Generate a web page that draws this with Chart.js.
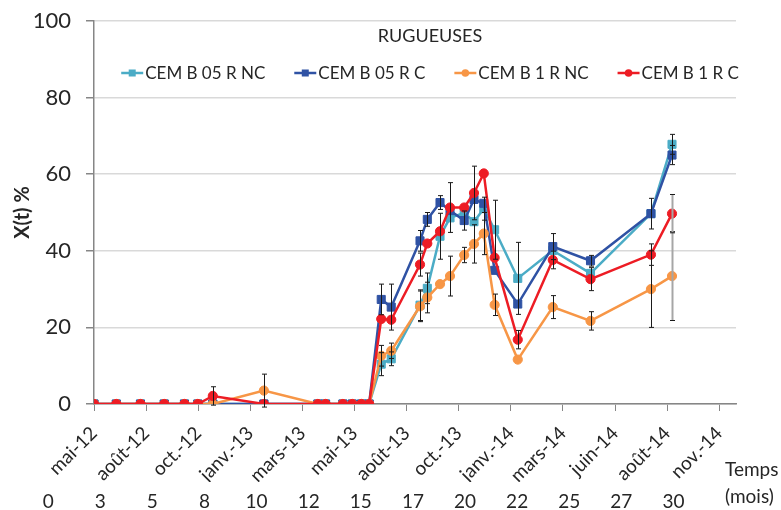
<!DOCTYPE html>
<html>
<head>
<meta charset="utf-8">
<script src="https://cdn.jsdelivr.net/npm/chart.js@4.4.1/dist/chart.umd.min.js"></script>
<style>
  html, body { margin: 0; padding: 0; background: #fff; }
  #cadre { width: 781px; height: 510px; }
</style>
</head>
<body>
<div id="cadre"><canvas id="graphe"></canvas></div>
<script>
// temps des mesures, en mois depuis mai-12
const temps = [0, 1.07, 2.23, 3.37, 4.34, 4.98, 5.70, 8.15, 10.74, 11.11, 11.94, 12.39, 12.83, 13.20,
  13.78, 14.26, 15.64, 15.99, 16.60, 17.08, 17.76, 18.23, 18.70, 19.22, 20.33, 22.01, 23.82, 26.72, 27.73];

// X(t) % par série
const cem05RNC = [0, 0, 0, 0, 0, 0, 0, 0, 0, 0, 0, 0, 0, 0,
  10.4, 11.8, 25.8, 30.2, 43.8, 48.6, 49.9, 47.6, 51.0, 45.5, 32.8, 40.1, 34.1, 49.7, 67.8];
const cem05RC = [0, 0, 0, 0, 0, 0, 0, 0, 0, 0, 0, 0, 0, 0,
  27.3, 25.3, 42.6, 48.2, 52.6, 50.5, 47.9, 53.4, 52.4, 34.9, 26.1, 41.1, 37.4, 49.7, 65.0];
const cem1RNC = [0, 0, 0, 0, 0, 0, 0, 3.5, 0, 0, 0, 0, 0, 0,
  12.6, 13.9, 25.5, 27.8, 31.3, 33.4, 38.9, 41.8, 44.5, 25.9, 11.6, 25.3, 21.7, 30.0, 33.4];
const cem1RC = [0, 0, 0, 0, 0, 0, 2.1, 0, 0, 0, 0, 0, 0, 0,
  22.2, 22.0, 36.4, 41.9, 45.1, 51.3, 51.3, 55.1, 60.2, 38.2, 16.8, 37.6, 32.6, 39.0, 49.7];

// écarts (barres d'erreur +/-)
const err05RNC = [0, 0, 0, 0, 0, 0, 0, 0, 0, 0, 0, 0, 0, 0,
  3.0, 1.8, 4.0, 4.0, 6.0, 0, 0, 0, 3.0, 7.7, 9.4, 0, 0, 0, 2.6];
const err05RC = [0, 0, 0, 0, 0, 0, 0, 0, 0, 0, 0, 0, 0, 0,
  4.0, 6.0, 2.7, 1.8, 1.8, 0, 2.5, 0, 0, 0, 0, 3.4, 1.4, 4.0, 2.5];
const err1RNC = [0, 0, 0, 0, 0, 0, 0, 4.3, 0, 0, 0, 0, 0, 0,
  2.7, 2.0, 4.0, 4.0, 0, 5.2, 2.0, 5.0, 5.5, 2.8, 0, 3.0, 2.4, 10.0, 11.6];
const err1RC = [0, 0, 0, 0, 0, 0, 2.4, 0, 0, 0, 0, 0, 0, 0,
  0, 0, 3.0, 0, 0, 6.5, 0, 7.0, 0, 0, 2.4, 2.3, 3.0, 2.8, 5.0];

// graduations de l'axe des temps
const etiquettesDates = ['mai-12', 'août-12', 'oct.-12', 'janv.-13', 'mars-13', 'mai-13', 'août-13',
  'oct.-13', 'janv.-14', 'mars-14', 'juin-14', 'août-14', 'nov.-14'];
const etiquettesMois = ['0', '3', '5', '8', '10', '12', '15', '17', '20', '22', '25', '27', '30'];

const police = 'Lato, "Open Sans", sans-serif';
const gris = '#868686';
const texte = '#262626';

function serie(label, valeurs, erreurs, couleur, style, rayon, ordre, barreGrise) {
    return {
        label,
        data: temps.map((t, i) => ({ x: t, y: valeurs[i] })),
        erreurs,
        barreGrise,
        borderColor: couleur,
        backgroundColor: couleur,
        pointBackgroundColor: couleur,
        pointBorderColor: couleur,
        pointBorderWidth: 1,
        pointStyle: style,
        pointRadius: rayon,
        borderWidth: 2.5,
        tension: 0,
        order: ordre
    };
}

const barresErreur = {
    id: 'barresErreur',
    afterDatasetsDraw(chart) {
        const ctx = chart.ctx;
        const ey = chart.scales.y;
        ctx.save();
        chart.data.datasets.forEach((ds, i) => {
            const meta = chart.getDatasetMeta(i);
            meta.data.forEach((pt, j) => {
                const e = ds.erreurs[j];
                if (!e) return;
                const grise = ds.barreGrise === j;
                ctx.strokeStyle = grise ? '#a6a6a6' : '#1a1a1a';
                ctx.lineWidth = grise ? 2 : 1;
                const v = ds.data[j].y;
                const haut = ey.getPixelForValue(v + e);
                const bas = ey.getPixelForValue(v - e);
                const x = Math.round(pt.x) + 0.5;
                ctx.beginPath();
                ctx.moveTo(x, haut); ctx.lineTo(x, bas);
                ctx.stroke();
                ctx.strokeStyle = '#1a1a1a';
                ctx.lineWidth = 1;
                ctx.beginPath();
                ctx.moveTo(x - 2.5, haut); ctx.lineTo(x + 2.5, haut);
                ctx.moveTo(x - 2.5, bas); ctx.lineTo(x + 2.5, bas);
                ctx.stroke();
            });
        });
        ctx.restore();
    }
};

// titre et légende posés dans la zone du graphe
const legendeInterne = {
    id: 'legendeInterne',
    afterDraw(chart) {
        const { ctx, chartArea } = chart;
        const cx = (chartArea.left + chartArea.right) / 2 + 15;
        ctx.save();
        ctx.fillStyle = texte;
        ctx.textBaseline = 'middle';
        ctx.font = '18px ' + police;
        ctx.textAlign = 'center';
        ctx.fillText('RUGUEUSES', cx, chartArea.top + 15);

        ctx.textAlign = 'left';
        ctx.font = '17px ' + police;
        const ds = chart.data.datasets;
        const largeurs = ds.map(d => 24 + ctx.measureText(d.label).width);
        const total = largeurs.reduce((a, b) => a + b, 0) + 29 * (ds.length - 1);
        let x = cx - total / 2;
        const yl = chartArea.top + 52;
        ds.forEach((d, i) => {
            ctx.strokeStyle = d.borderColor;
            ctx.fillStyle = d.borderColor;
            ctx.lineWidth = 2.5;
            ctx.beginPath();
            ctx.moveTo(x, yl); ctx.lineTo(x + 22, yl);
            ctx.stroke();
            if (d.pointStyle === 'rect') {
                ctx.fillRect(x + 7.5, yl - 3.5, 7, 7);
            } else {
                ctx.beginPath();
                ctx.arc(x + 11, yl, 3.8, 0, Math.PI * 2);
                ctx.fill();
            }
            ctx.fillStyle = texte;
            ctx.fillText(d.label, x + 24, yl + 1);
            x += largeurs[i] + 29;
        });

        // unité de l'axe des temps
        ctx.font = '19px ' + police;
        ctx.fillText('Temps', chartArea.right - 11, 470);
        ctx.fillText('(mois)', chartArea.right - 11, 497);
        ctx.restore();
    }
};

new Chart(document.getElementById('graphe'), {
    type: 'line',
    data: {
        datasets: [
            serie('CEM B 05 R NC', cem05RNC, err05RNC, '#4bacc6', 'rect', 5.7, 4),
            serie('CEM B 05 R C', cem05RC, err05RC, '#2f52a4', 'rect', 5.7, 3),
            serie('CEM B 1 R NC', cem1RNC, err1RNC, '#f79646', 'circle', 4.6, 2, 28),
            serie('CEM B 1 R C', cem1RC, err1RC, '#ed1c24', 'circle', 4.6, 1, 28)
        ]
    },
    options: {
        responsive: true,
        maintainAspectRatio: false,
        animation: false,
        layout: { padding: { top: 21, right: 45, left: 0, bottom: 0 } },
        plugins: {
            legend: { display: false },
            tooltip: { enabled: false }
        },
        scales: {
            x: {
                type: 'linear',
                min: 0,
                max: 30.8,
                afterBuildTicks: s => { s.ticks = etiquettesDates.map((_, i) => ({ value: i * 2.5 })); },
                afterFit: s => { s.height = 78; },
                ticks: {
                    autoSkip: false,
                    minRotation: 45,
                    maxRotation: 45,
                    padding: 11,
                    color: texte,
                    font: { family: police, size: 19 },
                    callback: (v, i) => etiquettesDates[i]
                },
                grid: { drawOnChartArea: false, tickLength: 7, tickColor: gris, tickWidth: 1 },
                border: { color: gris, width: 1.5 }
            },
            x2: {
                type: 'linear',
                position: 'bottom',
                min: 2.2,
                max: 33.0,
                afterBuildTicks: s => { s.ticks = etiquettesMois.map((_, i) => ({ value: i * 2.5 })); },
                afterFit: s => { s.height = 28; },
                ticks: {
                    autoSkip: false,
                    maxRotation: 0,
                    padding: 0,
                    color: texte,
                    font: { family: police, size: 19 },
                    callback: (v, i) => etiquettesMois[i]
                },
                grid: { display: false },
                border: { display: false }
            },
            y: {
                min: 0,
                max: 100,
                afterFit: s => {
                    s.width = 94;
                    s.paddingTop = 0;
                    s.paddingBottom = 0;
                },
                ticks: {
                    stepSize: 20,
                    padding: 15,
                    color: texte,
                    font: { family: police, size: 22 }
                },
                grid: { color: '#d9d9d9', lineWidth: 1.5, tickLength: 8, tickColor: gris },
                border: { color: gris, width: 1.5 },
                title: {
                    display: true,
                    text: 'X(t) %',
                    color: texte,
                    font: { family: police, size: 20, weight: 'bold' },
                    padding: { top: 11, bottom: 0 }
                }
            }
        }
    },
    plugins: [barresErreur, legendeInterne]
});
</script>
</body>
</html>
